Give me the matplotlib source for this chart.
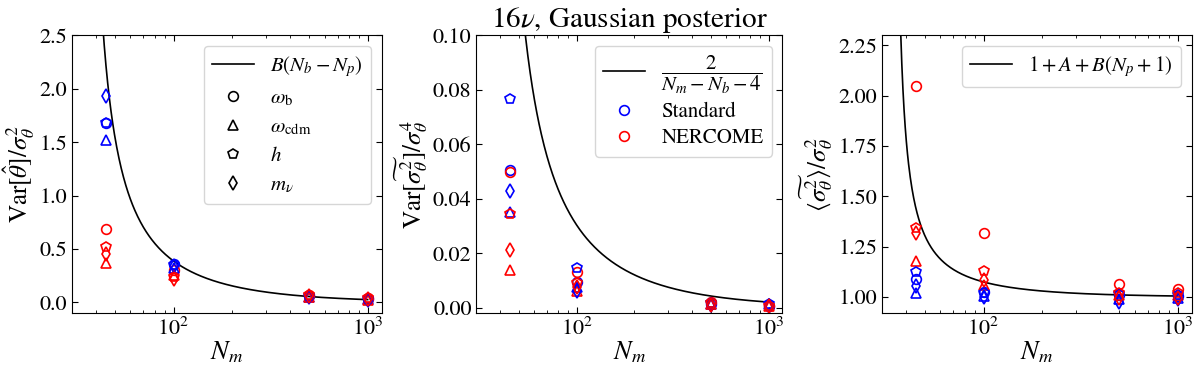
import numpy as np
import matplotlib
matplotlib.use("Agg")
import matplotlib.pyplot as plt
from matplotlib.lines import Line2D

plt.rcParams['font.family'] = 'STIXGeneral'
plt.rcParams['mathtext.fontset'] = 'stix'
plt.rcParams['xtick.direction'] = 'in'
plt.rcParams['ytick.direction'] = 'in'
plt.rcParams['xtick.top'] = True
plt.rcParams['ytick.right'] = True

# Anzahl Mocks
n_mocks = [45, 100, 500, 1000]
n_bins = 30
n_params = 4

params = ['wb', 'wcdm', 'h', 'mnu']
param_labels = [r'$\omega_{\rm b}$', r'$\omega_{\rm cdm}$', r'$h$', r'$m_\nu$']
markers = ['o', '^', 'p', 'd']

# Var[theta_hat] / sigma^2
var_theta_std = {
    'wb':   [1.68, 0.36, 0.06, 0.03],
    'wcdm': [1.52, 0.32, 0.05, 0.03],
    'h':    [1.68, 0.35, 0.06, 0.03],
    'mnu':  [1.93, 0.34, 0.05, 0.02],
}
var_theta_ner = {
    'wb':   [0.69, 0.30, 0.07, 0.04],
    'wcdm': [0.37, 0.26, 0.05, 0.02],
    'h':    [0.52, 0.24, 0.07, 0.04],
    'mnu':  [0.45, 0.22, 0.06, 0.03],
}

# Var[sigma^2] / sigma^4
var_sig_std = {
    'wb':   [0.0505, 0.0095, 0.0015, 0.0008],
    'wcdm': [0.0353, 0.0075, 0.0012, 0.0012],
    'h':    [0.0768, 0.0147, 0.0018, 0.0012],
    'mnu':  [0.0430, 0.0060, 0.0010, 0.0006],
}
var_sig_ner = {
    'wb':   [0.0499, 0.0130, 0.0022, 0.0008],
    'wcdm': [0.0137, 0.0060, 0.0014, 0.0005],
    'h':    [0.0344, 0.0090, 0.0018, 0.0007],
    'mnu':  [0.0212, 0.0075, 0.0010, 0.0005],
}

# <sigma^2> / sigma^2
mean_sig_std = {
    'wb':   [1.090, 1.025, 1.010, 1.005],
    'wcdm': [1.020, 1.005, 0.990, 0.995],
    'h':    [1.125, 1.020, 1.015, 1.010],
    'mnu':  [1.055, 1.000, 0.975, 0.990],
}
mean_sig_ner = {
    'wb':   [2.050, 1.320, 1.065, 1.042],
    'wcdm': [1.177, 1.060, 1.010, 1.010],
    'h':    [1.345, 1.127, 1.020, 1.020],
    'mnu':  [1.317, 1.086, 0.995, 0.995],
}


# Percival et al. Faktoren
def factor_A(nm, nb):
    return 2.0 / ((nm - nb - 1) * (nm - nb - 4))


def factor_B(nm, nb):
    return (nm - nb - 2) / ((nm - nb - 1) * (nm - nb - 4))


nm_curve = np.logspace(np.log10(35), np.log10(1000), 500)
curve1 = factor_B(nm_curve, n_bins) * (n_bins - n_params)
curve2 = 2.0 / (nm_curve - n_bins - 4)
curve3 = 1 + factor_A(nm_curve, n_bins) + factor_B(nm_curve, n_bins) * (n_params + 1)

fig = plt.figure(figsize=(12, 3.68), dpi=100)
ax1 = fig.add_axes([0.060, 0.149, 0.258, 0.755])
ax2 = fig.add_axes([0.397, 0.149, 0.255, 0.755])
ax3 = fig.add_axes([0.735, 0.149, 0.258, 0.755])

ms = 7
for ax, std, ner, curve in [(ax1, var_theta_std, var_theta_ner, curve1),
                             (ax2, var_sig_std, var_sig_ner, curve2),
                             (ax3, mean_sig_std, mean_sig_ner, curve3)]:
    ax.plot(nm_curve, curve, color='k', lw=1.2)
    for p, m in zip(params, markers):
        ax.plot(n_mocks, std[p], ls='none', marker=m, mfc='none', mec='b', ms=ms, mew=1.2)
        ax.plot(n_mocks, ner[p], ls='none', marker=m, mfc='none', mec='r', ms=ms, mew=1.2)
    ax.set_xscale('log')
    ax.set_xlim(30, 1180)
    ax.set_xlabel(r'$N_m$', fontsize=19, labelpad=0)
    ax.tick_params(axis='both', which='major', labelsize=16, length=4)
    ax.tick_params(axis='both', which='minor', length=2)

ax1.set_ylim(-0.1, 2.5)
ax1.set_yticks([0.0, 0.5, 1.0, 1.5, 2.0, 2.5])
ax1.set_ylabel(r'${\rm Var}[\hat{\theta}]/\sigma_\theta^2$', fontsize=18, labelpad=2)

ax2.set_ylim(-0.002, 0.1)
ax2.set_yticks([0.0, 0.02, 0.04, 0.06, 0.08, 0.10])
ax2.set_yticklabels(['0.00', '0.02', '0.04', '0.06', '0.08', '0.10'])
ax2.set_ylabel(r'${\rm Var}[\widetilde{\sigma_\theta^2}]/\sigma_\theta^4$', fontsize=18, labelpad=2)
ax2.set_title(r'$16\nu$, Gaussian posterior', fontsize=21, pad=3)

ax3.set_ylim(0.92, 2.3)
ax3.set_yticks([1.0, 1.25, 1.5, 1.75, 2.0, 2.25])
ax3.set_yticklabels(['1.00', '1.25', '1.50', '1.75', '2.00', '2.25'])
ax3.set_ylabel(r'$\langle\widetilde{\sigma_\theta^2}\rangle/\sigma_\theta^2$', fontsize=18, labelpad=2)

# Legenden
h1 = [Line2D([], [], color='k', lw=1.2)]
h1 += [Line2D([], [], ls='none', marker=m, mfc='none', mec='k', ms=ms, mew=1.2) for m in markers]
ax1.legend(h1, [r'$B(N_b-N_p)$'] + param_labels, loc='upper right', fontsize=15,
           labelspacing=0.45)

h2 = [Line2D([], [], color='k', lw=1.2),
      Line2D([], [], ls='none', marker='o', mfc='none', mec='b', ms=ms, mew=1.2),
      Line2D([], [], ls='none', marker='o', mfc='none', mec='r', ms=ms, mew=1.2)]
ax2.legend(h2, [r'$\dfrac{2}{N_m-N_b-4}$', 'Standard', 'NERCOME'], loc='upper right',
           fontsize=15, labelspacing=0.3)

ax3.legend([Line2D([], [], color='k', lw=1.2)], [r'$1+A+B(N_p+1)$'], loc='upper right',
           fontsize=15)

fig.savefig('out.png', dpi=100)
